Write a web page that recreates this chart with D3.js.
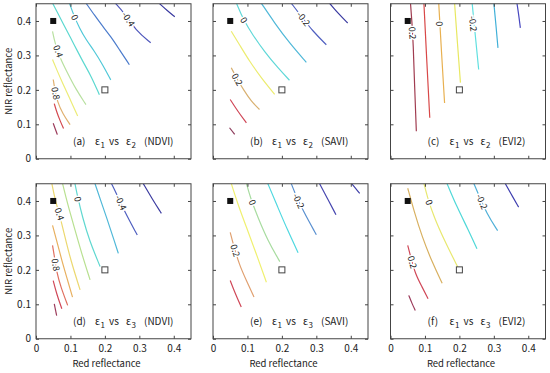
<!DOCTYPE html>
<html>
<head>
<meta charset="utf-8">
<script src="https://cdn.jsdelivr.net/npm/d3@7"></script>
<style>
  body { margin: 0; background: #fff; }
  svg { display: block; }
  text { font-family: "Noto Sans CJK JP", "DejaVu Sans", sans-serif; fill: #222; }
</style>
</head>
<body>
<svg id="chart" width="550" height="373"></svg>
<script>
// ---- data (red reflectance, NIR reflectance) ----
const redTicks = [0, 0.1, 0.2, 0.3, 0.4];
const nirTicks = [0, 0.1, 0.2, 0.3, 0.4];
const vegPoint = [0.05, 0.4];   // filled square
const soilPoint = [0.2, 0.2];   // open square

// (a) e1 vs e2, NDVI
const ndvi12 = [
  { level: -0.6, pts: [[0.359, 0.45], [0.381, 0.43], [0.403, 0.412]] },
  { level: -0.4, pts: [[0.230, 0.452], [0.255, 0.425], [0.290, 0.372], [0.333, 0.337]] },
  { level: -0.2, pts: [[0.145, 0.452], [0.169, 0.418], [0.193, 0.385], [0.217, 0.355], [0.242, 0.317], [0.271, 0.273]] },
  { level: 0, pts: [[0.097, 0.452], [0.111, 0.413], [0.126, 0.380], [0.145, 0.346], [0.169, 0.313], [0.193, 0.274], [0.217, 0.229]] },
  { level: 0.2, pts: [[0.048, 0.452], [0.063, 0.423], [0.080, 0.390], [0.100, 0.352], [0.120, 0.313], [0.140, 0.275], [0.160, 0.240], [0.184, 0.186]] },
  { level: 0.4, pts: [[0.048, 0.370], [0.055, 0.336], [0.070, 0.292], [0.090, 0.252], [0.115, 0.203], [0.145, 0.157]] },
  { level: 0.6, pts: [[0.048, 0.288], [0.060, 0.259], [0.077, 0.220], [0.097, 0.177], [0.121, 0.124]] },
  { level: 0.8, pts: [[0.050, 0.230], [0.054, 0.205], [0.062, 0.165], [0.078, 0.130], [0.099, 0.099]] },
  { level: 1.0, pts: [[0.053, 0.160], [0.060, 0.136], [0.070, 0.110], [0.080, 0.088]] },
  { level: 1.2, pts: [[0.050, 0.103], [0.056, 0.086], [0.062, 0.070]] }
];
const ndvi12Labels = [[0, 0.112, 0.410], [-0.4, 0.268, 0.405], [0.4, 0.064, 0.312], [0.8, 0.057, 0.190]];

// (b) e1 vs e2, SAVI
const savi12 = [
  { level: -0.3, pts: [[0.338, 0.452], [0.367, 0.418], [0.391, 0.394]] },
  { level: -0.2, pts: [[0.227, 0.452], [0.256, 0.414], [0.290, 0.370], [0.329, 0.331]] },
  { level: -0.1, pts: [[0.140, 0.452], [0.179, 0.394], [0.222, 0.336], [0.271, 0.280]] },
  { level: 0, pts: [[0.068, 0.452], [0.089, 0.402], [0.115, 0.360], [0.150, 0.310], [0.190, 0.262], [0.222, 0.228]] },
  { level: 0.1, pts: [[0.053, 0.370], [0.077, 0.331], [0.106, 0.283], [0.140, 0.235], [0.179, 0.187]] },
  { level: 0.2, pts: [[0.053, 0.264], [0.070, 0.232], [0.090, 0.198], [0.111, 0.167], [0.135, 0.143]] },
  { level: 0.3, pts: [[0.050, 0.172], [0.072, 0.138], [0.097, 0.104]] },
  { level: 0.4, pts: [[0.048, 0.090], [0.063, 0.071]] }
];
const savi12Labels = [[0, 0.089, 0.402], [-0.2, 0.262, 0.406], [0.2, 0.070, 0.230]];

// (c) e1 vs e2, EVI2
const evi12 = [
  { level: 0.2, pts: [[0.058, 0.452], [0.062, 0.400], [0.066, 0.336], [0.070, 0.210], [0.075, 0.080]] },
  { level: 0.1, pts: [[0.097, 0.452], [0.105, 0.290], [0.114, 0.119]] },
  { level: 0, pts: [[0.140, 0.452], [0.148, 0.310], [0.157, 0.162]] },
  { level: -0.1, pts: [[0.186, 0.452], [0.194, 0.340], [0.203, 0.221]] },
  { level: -0.2, pts: [[0.237, 0.452], [0.246, 0.360], [0.256, 0.259]] },
  { level: -0.3, pts: [[0.300, 0.452], [0.306, 0.390], [0.312, 0.322]] },
  { level: -0.4, pts: [[0.367, 0.452], [0.372, 0.420], [0.377, 0.380]] }
];
const evi12Labels = [[0.2, 0.063, 0.365], [0, 0.142, 0.392], [-0.2, 0.239, 0.392]];

// (d) e1 vs e3, NDVI
const ndvi13 = [
  { level: -0.6, pts: [[0.311, 0.451], [0.338, 0.405], [0.364, 0.364]] },
  { level: -0.4, pts: [[0.219, 0.451], [0.232, 0.425], [0.256, 0.372], [0.294, 0.301]] },
  { level: -0.2, pts: [[0.171, 0.451], [0.188, 0.401], [0.208, 0.343], [0.227, 0.285], [0.239, 0.248]] },
  { level: 0, pts: [[0.113, 0.451], [0.121, 0.411], [0.135, 0.353], [0.155, 0.285], [0.186, 0.210]] },
  { level: 0.2, pts: [[0.077, 0.451], [0.092, 0.390], [0.111, 0.324], [0.133, 0.246], [0.157, 0.171]] },
  { level: 0.4, pts: [[0.046, 0.451], [0.056, 0.401], [0.068, 0.362], [0.082, 0.304], [0.101, 0.227], [0.128, 0.142]] },
  { level: 0.6, pts: [[0.048, 0.329], [0.060, 0.285], [0.075, 0.227], [0.092, 0.169], [0.106, 0.121]] },
  { level: 0.8, pts: [[0.048, 0.271], [0.053, 0.242], [0.060, 0.193], [0.072, 0.150], [0.092, 0.097]] },
  { level: 1.0, pts: [[0.050, 0.169], [0.060, 0.130], [0.075, 0.087]] },
  { level: 1.2, pts: [[0.053, 0.101], [0.060, 0.067]] }
];
const ndvi13Labels = [[0.4, 0.068, 0.362], [0.8, 0.057, 0.215], [0, 0.121, 0.405], [-0.4, 0.246, 0.395]];

// (e) e1 vs e3, SAVI
const savi13 = [
  { level: -0.4, pts: [[0.402, 0.451], [0.414, 0.437], [0.426, 0.422]] },
  { level: -0.3, pts: [[0.309, 0.451], [0.333, 0.406], [0.357, 0.360]] },
  { level: -0.2, pts: [[0.227, 0.451], [0.237, 0.425], [0.261, 0.372], [0.300, 0.302]] },
  { level: -0.1, pts: [[0.159, 0.451], [0.188, 0.382], [0.217, 0.314], [0.247, 0.250]] },
  { level: 0, pts: [[0.097, 0.451], [0.108, 0.411], [0.130, 0.353], [0.159, 0.285], [0.194, 0.224]] },
  { level: 0.1, pts: [[0.053, 0.451], [0.072, 0.391], [0.097, 0.324], [0.126, 0.246], [0.155, 0.164]] },
  { level: 0.2, pts: [[0.050, 0.309], [0.060, 0.270], [0.077, 0.213], [0.097, 0.169], [0.119, 0.121]] },
  { level: 0.3, pts: [[0.050, 0.169], [0.063, 0.135], [0.082, 0.092]] }
];
const savi13Labels = [[0, 0.114, 0.396], [-0.2, 0.248, 0.400], [0.2, 0.064, 0.256]];

// (f) e1 vs e3, EVI2
const evi13 = [
  { level: -0.3, pts: [[0.333, 0.451], [0.353, 0.415], [0.372, 0.382]] },
  { level: -0.2, pts: [[0.242, 0.451], [0.253, 0.425], [0.280, 0.362], [0.311, 0.314]] },
  { level: -0.1, pts: [[0.164, 0.451], [0.193, 0.382], [0.227, 0.314], [0.251, 0.261]] },
  { level: 0, pts: [[0.097, 0.451], [0.106, 0.415], [0.126, 0.353], [0.159, 0.280], [0.198, 0.203]] },
  { level: 0.1, pts: [[0.050, 0.437], [0.068, 0.372], [0.092, 0.295], [0.121, 0.222], [0.150, 0.161]] },
  { level: 0.2, pts: [[0.050, 0.271], [0.058, 0.240], [0.072, 0.188], [0.092, 0.150], [0.109, 0.116]] },
  { level: 0.3, pts: [[0.053, 0.126], [0.063, 0.101], [0.072, 0.082]] }
];
const evi13Labels = [[0, 0.112, 0.396], [-0.2, 0.265, 0.398], [0.2, 0.063, 0.222]];

const panelTags = ["(a)", "(b)", "(c)", "(d)", "(e)", "(f)"];
const panelPairs = [["1", "2"], ["1", "2"], ["1", "2"], ["1", "3"], ["1", "3"], ["1", "3"]];
const panelIndex = ["(NDVI)", "(SAVI)", "(EVI2)", "(NDVI)", "(SAVI)", "(EVI2)"];
const panelLines = [ndvi12, savi12, evi12, ndvi13, savi13, evi13];
const panelLabels = [ndvi12Labels, savi12Labels, evi12Labels, ndvi13Labels, savi13Labels, evi13Labels];

// ---- styles: contour colours, high level -> low level ----
const palettes = [
  ["#9c3c5c", "#d44a50", "#e0b070", "#ecec78", "#b8e0a0", "#5cd8d0", "#50c8d8", "#4c7ccc", "#5058bc", "#3a3aa0"],
  ["#8c3a5a", "#d04858", "#d8b070", "#ecec70", "#60d8d8", "#50b8d8", "#5060c0", "#3a3aa0"],
  ["#a03c50", "#d84848", "#e8b050", "#e8e860", "#60e0e0", "#40b0d8", "#4848c0"],
  ["#9c3c5c", "#d04858", "#e07060", "#e8b060", "#ecd870", "#b8e090", "#60d8d0", "#50b8d8", "#5060c0", "#3c3ca0"],
  ["#d04858", "#e0a070", "#f0f070", "#a8dca0", "#50d8e0", "#5a90d0", "#4848b0", "#4040a8"],
  ["#9c3c5c", "#d04858", "#d8b060", "#e8e870", "#50d8d8", "#50b0d8", "#4040b0"]
];

const svg = d3.select("#chart");
const W = 155, H = 155;
const colX = [36, 213, 390.5];
const rowY = [3.75, 183.75];

const x = d3.scaleLinear().domain([0, 0.45]).range([0, W]);
const y = d3.scaleLinear().domain([0, 0.45]).range([H, 0]);
const line = d3.line().x(d => x(d[0])).y(d => y(d[1])).curve(d3.curveBasis);
const tickFmt = d => d === 0 ? "0" : d3.format(".1f")(d);

svg.append("defs").append("clipPath").attr("id", "plotClip")
  .append("rect").attr("width", W).attr("height", H);

panelLines.forEach((lines, i) => {
  const col = i % 3, row = Math.floor(i / 3);
  const g = svg.append("g").attr("transform", `translate(${colX[col]},${rowY[row]})`);

  const levels = lines.map(d => d.level).sort((a, b) => b - a);
  const colour = d3.scaleOrdinal(levels, palettes[i]);

  const plot = g.append("g").attr("clip-path", "url(#plotClip)");
  plot.selectAll("path.contour")
    .data(lines)
    .join("path")
    .attr("class", "contour")
    .attr("d", d => line(d.pts))
    .attr("fill", "none")
    .attr("stroke", d => colour(d.level))
    .attr("stroke-width", 1.2);

  // contour labels, rotated along the line they sit on
  const angleAt = (lab) => {
    const ln = lines.find(l => l.level === lab[0]);
    let best = null, bestD = Infinity;
    for (let k = 0; k < ln.pts.length - 1; k++) {
      const a = ln.pts[k], b = ln.pts[k + 1];
      const mx = (x(a[0]) + x(b[0])) / 2, my = (y(a[1]) + y(b[1])) / 2;
      const dd = (mx - x(lab[1])) ** 2 + (my - y(lab[2])) ** 2;
      if (dd < bestD) { bestD = dd; best = [a, b]; }
    }
    let ang = Math.atan2(y(best[1][1]) - y(best[0][1]), x(best[1][0]) - x(best[0][0])) * 180 / Math.PI;
    if (ang > 90) ang -= 180;
    if (ang < -90) ang += 180;
    return ang;
  };

  plot.selectAll("text.clabel")
    .data(panelLabels[i])
    .join("text")
    .attr("class", "clabel")
    .attr("transform", d => `translate(${x(d[1])},${y(d[2])}) rotate(${angleAt(d)})`)
    .attr("text-anchor", "middle")
    .attr("dy", "0.35em")
    .attr("font-size", 9)
    .attr("stroke", "#fff")
    .attr("stroke-width", 3)
    .attr("paint-order", "stroke")
    .text(d => String(d[0]));

  // markers
  g.append("rect")
    .attr("x", x(vegPoint[0]) - 3).attr("y", y(vegPoint[1]) - 3)
    .attr("width", 6).attr("height", 6)
    .attr("fill", "#111");
  g.append("rect")
    .attr("x", x(soilPoint[0]) - 3).attr("y", y(soilPoint[1]) - 3)
    .attr("width", 6).attr("height", 6)
    .attr("fill", "#fff").attr("stroke", "#444").attr("stroke-width", 1);

  // axes, ticks inward on all four sides
  const bottom = d3.axisBottom(x).tickValues(redTicks).tickSizeInner(-3).tickSizeOuter(0).tickPadding(6)
    .tickFormat(row === 1 ? tickFmt : "");
  const left = d3.axisLeft(y).tickValues(nirTicks).tickSizeInner(-3).tickSizeOuter(0).tickPadding(5)
    .tickFormat(col === 0 ? tickFmt : "");
  const top = d3.axisTop(x).tickValues(redTicks).tickSizeInner(-3).tickSizeOuter(0).tickFormat("");
  const right = d3.axisRight(y).tickValues(nirTicks).tickSizeInner(-3).tickSizeOuter(0).tickFormat("");

  [[bottom, `translate(0,${H})`], [left, null], [top, null], [right, `translate(${W},0)`]].forEach(([ax, tr]) => {
    const a = g.append("g").call(ax);
    if (tr) a.attr("transform", tr);
    a.select(".domain").remove();
    a.selectAll("line").attr("stroke", "#444");
    a.selectAll("text").attr("font-size", 10).attr("fill", "#333")
      .style("font-family", '"Noto Sans CJK JP", "DejaVu Sans", sans-serif');
  });

  g.append("rect")
    .attr("width", W).attr("height", H)
    .attr("fill", "none").attr("stroke", "#444").attr("stroke-width", 1);

  // panel title
  const t = g.append("text").attr("y", 141).attr("font-size", 10).attr("fill", "#333");
  t.append("tspan").attr("x", 37).text(panelTags[i]);
  t.append("tspan").attr("x", 59).text("ε");
  t.append("tspan").attr("x", 64.5).attr("dy", 3).attr("font-size", 8).text(panelPairs[i][0]);
  t.append("tspan").attr("x", 73).attr("dy", -3).text("vs");
  t.append("tspan").attr("x", 90).text("ε");
  t.append("tspan").attr("x", 95.5).attr("dy", 3).attr("font-size", 8).text(panelPairs[i][1]);
  t.append("tspan").attr("x", 108).attr("dy", -3).text(panelIndex[i]);

  if (col === 0) {
    g.append("text")
      .attr("transform", `translate(-24,${H / 2}) rotate(-90)`)
      .attr("text-anchor", "middle")
      .attr("font-size", 9.5)
      .attr("fill", "#333")
      .text("NIR reflectance");
  }
  if (row === 1) {
    g.append("text")
      .attr("x", W / 2 - 7).attr("y", H + 28)
      .attr("text-anchor", "middle")
      .attr("font-size", 9.5)
      .attr("fill", "#333")
      .text("Red reflectance");
  }
});
</script>
</body>
</html>
